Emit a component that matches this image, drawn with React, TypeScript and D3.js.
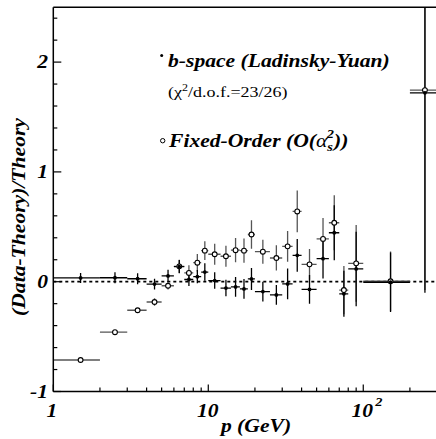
import React from "react";
import * as d3 from "d3";

// bins in p (GeV)
const binLo = [1, 2, 3, 4, 5, 6, 7, 8, 9, 10, 12, 14, 16, 18, 20, 25, 30, 35, 40, 50, 60, 70, 80, 100, 200];
const binHi = [2, 3, 4, 5, 6, 7, 8, 9, 10, 12, 14, 16, 18, 20, 25, 30, 35, 40, 50, 60, 70, 80, 100, 200, 300];
const pCenter = [1.5, 2.5, 3.5, 4.5, 5.5, 6.5, 7.5, 8.5, 9.5, 11, 13, 15, 17, 19, 22.5, 27.5, 32.5, 37.5, 45, 55, 65, 75, 90, 150, 250];

// b-space (Ladinsky-Yuan), filled
const bspaceVal = [0.034, 0.036, 0.027, -0.022, 0.053, 0.137, 0.02, 0.046, 0.088, 0.01, -0.058, -0.048, -0.066, 0.025, -0.09, -0.12, -0.02, 0.24, -0.07, 0.21, 0.446, -0.11, 0.116, -0.005, 1.72];
const bspaceErr = [0.045, 0.05, 0.05, 0.05, 0.055, 0.06, 0.06, 0.06, 0.08, 0.075, 0.075, 0.09, 0.09, 0.1, 0.09, 0.09, 0.14, 0.15, 0.13, 0.18, 0.25, 0.21, 0.34, 0.27, 1.82];

// Fixed-Order O(alpha_s^2), open
const fixedVal = [-0.713, -0.46, -0.26, -0.185, -0.037, 0.14, 0.08, 0.173, 0.283, 0.25, 0.232, 0.287, 0.283, 0.43, 0.273, 0.216, 0.322, 0.64, 0.158, 0.39, 0.537, -0.076, 0.167, 0.004, 1.745];
const fixedErr = [0.005, 0.01, 0.015, 0.035, 0.035, 0.06, 0.07, 0.08, 0.085, 0.095, 0.095, 0.11, 0.11, 0.13, 0.11, 0.115, 0.14, 0.19, 0.14, 0.19, 0.25, 0.22, 0.35, 0.27, 1.82];

const yMajor = [-1, 0, 1, 2];
const yMajorLabels = ["-1", "0", "1", "2"];
const xMajor = [1, 10, 100];
const xMinor = [2, 3, 4, 5, 6, 7, 8, 9, 20, 30, 40, 50, 60, 70, 80, 90, 200];

const W = 436;
const H = 439;
const FONT = "'Liberation Serif', 'Times New Roman', serif";
const SX = 1.2;

const x = d3.scaleLog().domain([1, 300]).range([53.3, 437.2]);
const y = d3.scaleLinear().domain([-1, 2.5]).range([391.5, 7.2]);

function STxt({ x0, y0, size, anchor = "start", rot = 0, children, weight = "bold", style = "italic" }: any) {
  return (
    <g transform={`translate(${x0},${y0}) rotate(${rot}) scale(${SX},1)`}>
      <text x={0} y={0} fontFamily={FONT} fontSize={size} fontWeight={weight} fontStyle={style} textAnchor={anchor} fill="#000">
        {children}
      </text>
    </g>
  );
}

export default function App() {
  const left = x(1);
  const right = W;
  const top = y(2.5);
  const bottom = y(-1);
  const yMinor = d3.range(-1, 2.5001, 0.2).filter((v) => Math.abs(v - Math.round(v)) > 1e-6);

  const series = [
    { val: fixedVal, err: fixedErr, color: "#555", open: true },
    { val: bspaceVal, err: bspaceErr, color: "#000", open: false },
  ];

  return (
    <svg width={W} height={H} style={{ position: "fixed", left: 0, top: 0, background: "#fff" }}>
      <defs>
        <clipPath id="plotClip">
          <rect x={left} y={top} width={right - left + 2} height={bottom - top} />
        </clipPath>
      </defs>
      <rect x={0} y={0} width={W} height={H} fill="#fff" />

      {/* zero line */}
      <line x1={left} x2={right} y1={y(0)} y2={y(0)} stroke="#000" strokeWidth={1.8} strokeDasharray="3,3" />

      {/* error bars */}
      <g clipPath="url(#plotClip)">
        {series.map((s, si) => (
          <g key={si} stroke={s.color} strokeWidth={1.3}>
            {pCenter.map((p, i) => (
              <g key={i}>
                <line x1={x(binLo[i])} x2={x(binHi[i])} y1={y(s.val[i])} y2={y(s.val[i])} />
                <line x1={x(p)} x2={x(p)} y1={y(s.val[i] - s.err[i])} y2={y(s.val[i] + s.err[i])} />
              </g>
            ))}
          </g>
        ))}
        {series.map((s, si) => (
          <g key={"m" + si}>
            {pCenter.map((p, i) =>
              s.open ? (
                <circle key={i} cx={x(p)} cy={y(s.val[i])} r={2.4} fill="#fff" stroke="#000" strokeWidth={1.1} />
              ) : (
                <circle key={i} cx={x(p)} cy={y(s.val[i])} r={1.9} fill="#000" />
              )
            )}
          </g>
        ))}
      </g>

      {/* frame */}
      <g stroke="#000" strokeWidth={1.5} fill="none">
        <line x1={left} x2={left} y1={top} y2={bottom} />
        <line x1={left} x2={right} y1={top} y2={top} />
        <line x1={left} x2={right} y1={bottom} y2={bottom} />
      </g>

      {/* ticks */}
      <g stroke="#000" strokeWidth={1.2}>
        {yMajor.map((v) => (
          <line key={"ym" + v} x1={left} x2={left + 8} y1={y(v)} y2={y(v)} />
        ))}
        {yMinor.map((v, i) => (
          <line key={"yn" + i} x1={left} x2={left + 4} y1={y(v)} y2={y(v)} />
        ))}
        {xMajor.map((v) => (
          <line key={"xm" + v} x1={x(v)} x2={x(v)} y1={bottom} y2={bottom - 7} />
        ))}
        {xMinor.map((v) => (
          <line key={"xn" + v} x1={x(v)} x2={x(v)} y1={bottom} y2={bottom - 4} />
        ))}
      </g>

      {/* y tick labels */}
      {yMajor.map((v, i) => (
        <STxt key={"yl" + v} x0={48} y0={y(v) + 6} size={18} anchor="end">
          {yMajorLabels[i]}
        </STxt>
      ))}

      {/* x tick labels */}
      <STxt x0={x(1) - 1.5} y0={417} size={18} anchor="middle">1</STxt>
      <STxt x0={x(10) - 0.5} y0={417} size={18} anchor="middle">10</STxt>
      <STxt x0={x(100) - 1} y0={417} size={18} anchor="middle">10</STxt>
      <STxt x0={x(100) + 12} y0={406} size={12} anchor="start">2</STxt>

      {/* axis titles */}
      <STxt x0={256} y0={432} size={18} anchor="middle">{"p  (GeV)"}</STxt>
      <STxt x0={25} y0={217} size={18} anchor="middle" rot={-90}>(Data-Theory)/Theory</STxt>

      {/* legend */}
      <circle cx={161.7} cy={55.5} r={1.5} fill="#000" />
      <STxt x0={168} y0={67} size={18}>b-space (Ladinsky-Yuan)</STxt>
      <STxt x0={168} y0={97} size={15} weight="normal" style="normal">
        (χ<tspan dy={-6} fontSize={10}>2</tspan>
        <tspan dy={6}>/d.o.f.=23/26)</tspan>
      </STxt>
      <circle cx={162.7} cy={140.7} r={2.2} fill="#fff" stroke="#000" strokeWidth={1} />
      <STxt x0={169} y0={147} size={18}>
        Fixed-Order (O(<tspan fontWeight="normal">α</tspan>
        <tspan dy={4} fontSize={12}>s</tspan>
        <tspan dx={-5} dy={-13} fontSize={12}>2</tspan>
        <tspan dy={9}>))</tspan>
      </STxt>
    </svg>
  );
}
